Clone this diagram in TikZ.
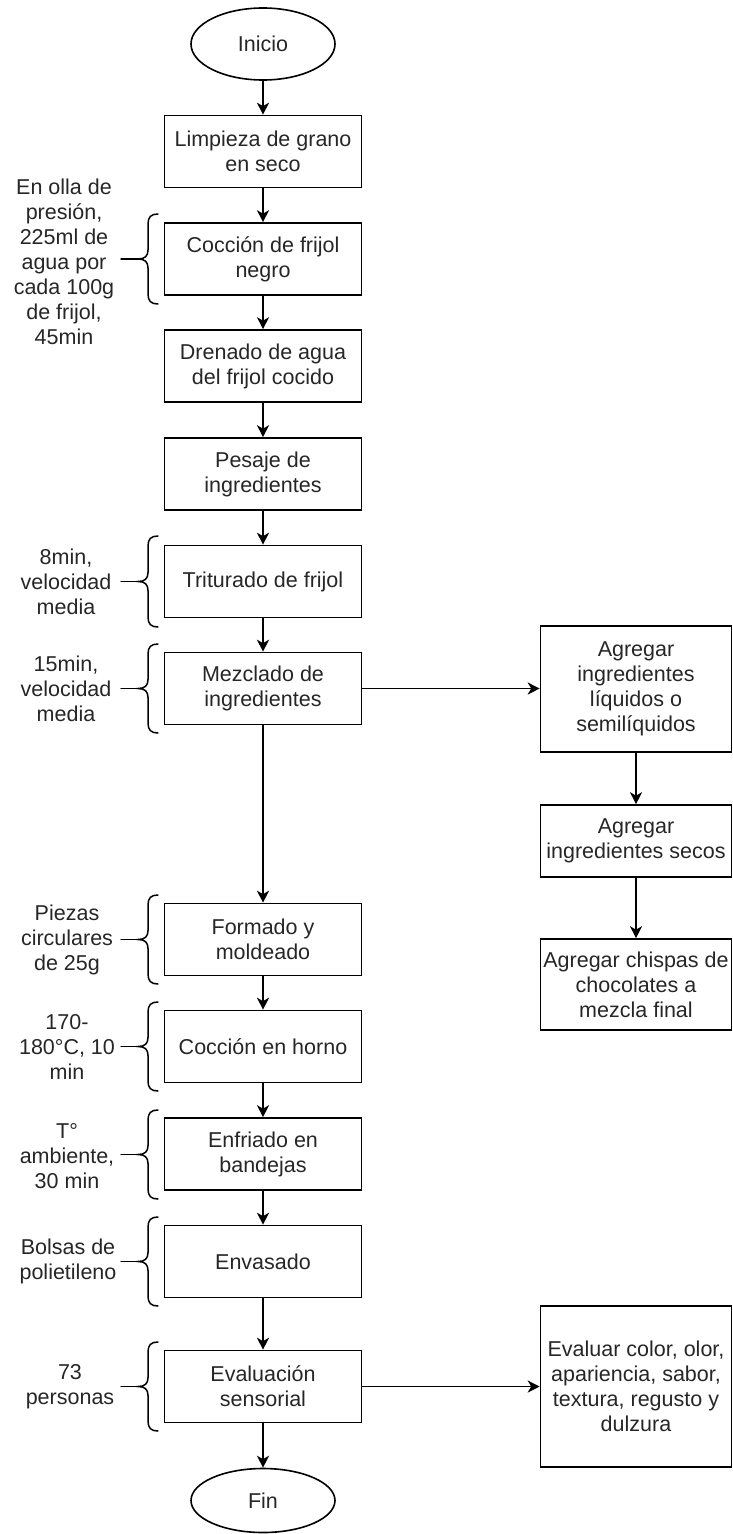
\documentclass[tikz,border=0pt]{standalone}
\usepackage{fontspec}
\setmainfont{Liberation Sans}
\usetikzlibrary{shapes.geometric,arrows.meta}
\newcommand\sidebrace[2]{% #1 top y, #2 bottom y (y grows downward)
  \pgfmathsetmacro\bmid{(#1+#2)/2}
  \draw[bracepath] (158,#1) .. controls (151,#1) and (148,#1+3) .. (148,#1+10)
     -- (148,\bmid-9) .. controls (148,\bmid-3) and (145,\bmid) .. (138,\bmid)
     .. controls (145,\bmid) and (148,\bmid+3) .. (148,\bmid+9)
     -- (148,#2-10) .. controls (148,#2-3) and (151,#2) .. (158,#2);
  \draw[bracepath] (121,\bmid) -- (138,\bmid);
}
\begin{document}
\begin{tikzpicture}[x=1pt,y=-1pt,
  every node/.style={font=\fontsize{21.5}{25}\selectfont, text=black!85, inner sep=0pt},
  box/.style={draw=black, line width=1.6pt, minimum width=197pt, minimum height=72pt, align=center},
  rbox/.style={box, minimum width=191pt},
  term/.style={draw=black, ellipse, line width=1.6pt, minimum width=144pt, minimum height=72pt},
  note/.style={align=center},
  flow/.style={draw=black, line width=1.6pt, -{Stealth[length=12pt,width=12pt,inset=3.5pt]}},
  bracepath/.style={draw=black, line width=1.5pt, line cap=round}]
\useasboundingbox (0,0) rectangle (732,1534);

% main column
\node[term] (inicio) at (263,44) {Inicio};
\node[box] (limp) at (263,151.5) {Limpieza de grano\\en seco};
\node[box] (coc) at (263,259) {Cocción de frijol\\negro};
\node[box] (dren) at (263,366) {Drenado de agua\\del frijol cocido};
\node[box] (pes) at (263,474) {Pesaje de\\ingredientes};
\node[box] (trit) at (263,581.5) {Triturado de frijol};
\node[box] (mez) at (263,688.5) {Mezclado de\\ingredientes};
\node[box] (form) at (263,939.5) {Formado y\\moldeado};
\node[box] (horno) at (263,1046.5) {Cocción en horno};
\node[box] (enf) at (263,1154) {Enfriado en\\bandejas};
\node[box] (env) at (263,1261.5) {Envasado};
\node[box] (eval) at (263,1386.5) {Evaluación\\sensorial};
\node[term, minimum height=64pt] (fin) at (263,1500.5) {Fin};

% right column
\node[rbox, minimum height=126pt] (liq) at (636,689) {Agregar\\ingredientes\\líquidos o\\semilíquidos};
\node[rbox] (sec) at (636,841) {Agregar\\ingredientes secos};
\node[rbox, minimum height=91pt] (chis) at (636,984.5) {Agregar chispas de\\chocolates a\\mezcla final};
\node[rbox, minimum height=161pt] (evr) at (636,1386.5) {Evaluar color, olor,\\apariencia, sabor,\\textura, regusto y\\dulzura};

% notes
\node[note] (n1) at (64,262) {En olla de\\presión,\\225ml de\\agua por\\cada 100g\\de frijol,\\45min};
\node[note] (n2) at (66,581.5) {8min,\\velocidad\\media};
\node[note] (n3) at (66,688.5) {15min,\\velocidad\\media};
\node[note] (n4) at (67,939.5) {Piezas\\circulares\\de 25g};
\node[note] (n5) at (67,1046.5) {170-\\180°C, 10\\min};
\node[note] (n6) at (67,1156) {T°\\ambiente,\\30 min};
\node[note] (n7) at (68,1261.5) {Bolsas de\\polietileno};
\node[note] (n8) at (70,1386.5) {73\\personas};

% braces
\sidebrace{214}{304}
\sidebrace{536}{627}
\sidebrace{644}{733}
\sidebrace{895}{984}
\sidebrace{1002}{1091}
\sidebrace{1110}{1199}
\sidebrace{1217}{1306}
\sidebrace{1342}{1431}

% connectors
\draw[flow] (inicio) -- (limp);
\draw[flow] (limp) -- (coc);
\draw[flow] (coc) -- (dren);
\draw[flow] (dren) -- (pes);
\draw[flow] (pes) -- (trit);
\draw[flow] (trit) -- (mez);
\draw[flow] (mez) -- (form);
\draw[flow] (form) -- (horno);
\draw[flow] (horno) -- (enf);
\draw[flow] (enf) -- (env);
\draw[flow] (env) -- (eval);
\draw[flow] (eval) -- (fin);
\draw[flow] (mez.east) -- (mez.east -| liq.west);
\draw[flow] (liq) -- (sec);
\draw[flow] (sec) -- (chis);
\draw[flow] (eval.east) -- (eval.east -| evr.west);
\end{tikzpicture}
\end{document}
